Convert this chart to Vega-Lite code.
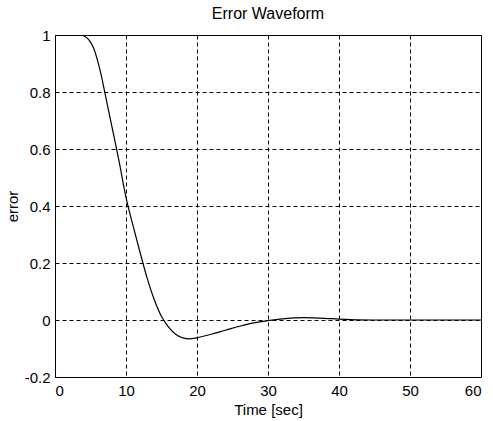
{
  "$schema": "https://vega.github.io/schema/vega-lite/v6.json",
  "autosize": "none",
  "width": 426,
  "height": 342,
  "padding": {"left": 55, "top": 35, "right": 12, "bottom": 44},
  "background": "white",
  "title": {"text": "Error Waveform", "fontSize": 16, "fontWeight": "normal", "font": "Liberation Sans", "color": "black", "offset": 6},
  "config": {
    "view": {"stroke": "black", "strokeWidth": 1},
    "axis": {
      "grid": true, "gridColor": "black", "gridDash": [4, 3], "gridWidth": 1, "gridOpacity": 1,
      "domain": false, "ticks": false,
      "labelFont": "Liberation Sans", "labelFontSize": 15, "labelColor": "black",
      "titleFont": "Liberation Sans", "titleFontSize": 15, "titleFontWeight": "normal", "titleColor": "black"
    }
  },
  "data": {"values": [
    {"t": 0, "e": 1}, {"t": 3.5, "e": 1}, {"t": 4, "e": 0.998}, {"t": 4.5, "e": 0.99},
    {"t": 5, "e": 0.975}, {"t": 5.5, "e": 0.95}, {"t": 6, "e": 0.91}, {"t": 6.5, "e": 0.86},
    {"t": 7, "e": 0.8}, {"t": 8, "e": 0.68}, {"t": 9, "e": 0.56}, {"t": 10, "e": 0.43},
    {"t": 11, "e": 0.33}, {"t": 12, "e": 0.235}, {"t": 13, "e": 0.145}, {"t": 14, "e": 0.07},
    {"t": 15, "e": 0.012}, {"t": 16, "e": -0.025}, {"t": 17, "e": -0.05}, {"t": 18, "e": -0.063},
    {"t": 19, "e": -0.066}, {"t": 20, "e": -0.062}, {"t": 22, "e": -0.05}, {"t": 24, "e": -0.036},
    {"t": 26, "e": -0.022}, {"t": 28, "e": -0.01}, {"t": 30, "e": -0.002}, {"t": 32, "e": 0.004},
    {"t": 35, "e": 0.008}, {"t": 38, "e": 0.006}, {"t": 40, "e": 0.003}, {"t": 45, "e": 0},
    {"t": 60, "e": 0}
  ]},
  "mark": {"type": "line", "color": "black", "strokeWidth": 1.2, "interpolate": "monotone", "clip": true},
  "encoding": {
    "x": {"field": "t", "type": "quantitative", "title": "Time [sec]",
      "scale": {"domain": [0, 60], "nice": false, "zero": false},
      "axis": {"values": [0, 10, 20, 30, 40, 50, 60], "labelPadding": 6, "titlePadding": 4}},
    "y": {"field": "e", "type": "quantitative", "title": "error",
      "scale": {"domain": [-0.2, 1], "nice": false, "zero": false},
      "axis": {"values": [-0.2, 0, 0.2, 0.4, 0.6, 0.8, 1], "labelExpr": "replace(format(datum.value, '.1~f'), '\u2212', '-')", "labelPadding": 5, "titlePadding": 4}}
  }
}
